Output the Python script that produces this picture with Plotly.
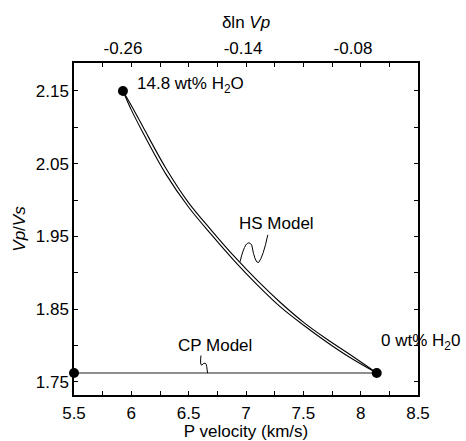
import plotly.graph_objects as go

# ---- data ----
vp_hs = [5.927, 6.0, 6.1, 6.3, 6.5, 6.7, 6.9, 7.1, 7.3, 7.5, 7.7, 7.9, 8.14]
hs_upper = [2.150, 2.130, 2.101, 2.044, 1.996, 1.958, 1.922, 1.889, 1.859, 1.832, 1.809, 1.788, 1.762]
hs_lower = [2.150, 2.124, 2.093, 2.036, 1.990, 1.952, 1.916, 1.883, 1.853, 1.828, 1.805, 1.784, 1.762]

vp_cp = [5.5, 8.14]
cp_ratio = [1.762, 1.762]

end_vp = [5.927, 8.14, 5.5]
end_ratio = [2.150, 1.762, 1.762]

top_tick_vp = [5.927, 6.974, 7.933]
top_tick_text = ["-0.26", "-0.14", "-0.08"]

FONT = "Liberation Sans, Arial, Helvetica, sans-serif"
FS = 17

fig = go.Figure()
fig.add_trace(go.Scatter(x=vp_cp, y=cp_ratio, mode="lines",
                         line=dict(color="#6a6a6a", width=1.6), hoverinfo="skip"))
fig.add_trace(go.Scatter(x=vp_hs, y=hs_upper, mode="lines",
                         line=dict(color="black", width=1.1, shape="spline"), hoverinfo="skip"))
fig.add_trace(go.Scatter(x=vp_hs, y=hs_lower, mode="lines",
                         line=dict(color="black", width=1.1, shape="spline"), hoverinfo="skip"))
fig.add_trace(go.Scatter(x=end_vp, y=end_ratio, mode="markers",
                         marker=dict(color="black", size=10), cliponaxis=False, hoverinfo="skip"))
# invisible trace to activate top axis
fig.add_trace(go.Scatter(x=[5.5, 8.5], y=[1.8, 1.8], xaxis="x2", mode="markers",
                         marker=dict(opacity=0), hoverinfo="skip"))

fig.update_layout(
    width=466, height=441,
    margin=dict(l=74, r=48, t=63, b=46),
    paper_bgcolor="white", plot_bgcolor="white",
    showlegend=False,
    font=dict(family=FONT, size=FS, color="black"),
    xaxis=dict(range=[5.5, 8.5], tick0=5.5, dtick=0.5, ticks="inside", ticklen=4,
               tickwidth=1, tickcolor="black", automargin=False, ticklabelstandoff=2,
               minor=dict(dtick=0.25, ticks="inside", ticklen=4, tickcolor="black"),
               showline=True, linecolor="black", linewidth=1.5, mirror="allticks",
               showgrid=False, zeroline=False,
               title=dict(text="P velocity (km/s)", standoff=2, font=dict(size=FS)),
               tickfont=dict(size=FS)),
    xaxis2=dict(range=[5.5, 8.5], overlaying="x", side="top", tickvals=top_tick_vp,
                ticktext=top_tick_text, ticks="", showline=False, showgrid=False,
                zeroline=False, tickfont=dict(size=FS), automargin=False,
                ticklabelstandoff=5,
                title=dict(text="δln <i>Vp</i>", standoff=5, font=dict(size=FS))),
    yaxis=dict(range=[1.7317, 2.1885], tick0=1.75, dtick=0.1, ticks="inside", ticklen=4,
               tickwidth=1, tickcolor="black", tickformat=".2f", automargin=False,
               minor=dict(dtick=0.05, ticks="inside", ticklen=4, tickcolor="black"),
               showline=True, linecolor="black", linewidth=1.5, mirror="allticks",
               showgrid=False, zeroline=False,
               title=dict(text="<i>Vp</i>/<i>Vs</i>", standoff=6, font=dict(size=FS)),
               tickfont=dict(size=FS)),
)

ann = dict(showarrow=False, font=dict(family=FONT, size=FS, color="black"))
fig.add_annotation(x=6.03, y=2.158, xref="x", yref="y", xanchor="left", yanchor="middle",
                   text="14.8 wt% H<sub>2</sub>O", **ann)
fig.add_annotation(x=7.27, y=1.968, xref="x", yref="y", xanchor="center", yanchor="middle",
                   text="HS Model", **ann)
fig.add_annotation(x=6.73, y=1.800, xref="x", yref="y", xanchor="center", yanchor="middle",
                   text="CP Model", **ann)
fig.add_annotation(x=8.16, y=1.805, xref="x", yref="y", xanchor="left", yanchor="middle",
                   text="0 wt% H<sub>2</sub>0", **ann)

# leader squiggles
fig.add_shape(type="path", xref="x", yref="y",
              path="M 6.948,1.915 Q 7.00,1.950 7.05,1.938 Q 7.08,1.912 7.11,1.914 Q 7.15,1.922 7.19,1.952",
              line=dict(color="black", width=1))
fig.add_shape(type="path", xref="x", yref="y",
              path="M 6.607,1.786 Q 6.598,1.772 6.615,1.773 Q 6.652,1.779 6.657,1.771 L 6.665,1.762",
              line=dict(color="black", width=1))

fig.write_html("out.html", config={"displayModeBar": False},
               post_script="document.body.style.margin='0';document.body.style.overflow='hidden';")
